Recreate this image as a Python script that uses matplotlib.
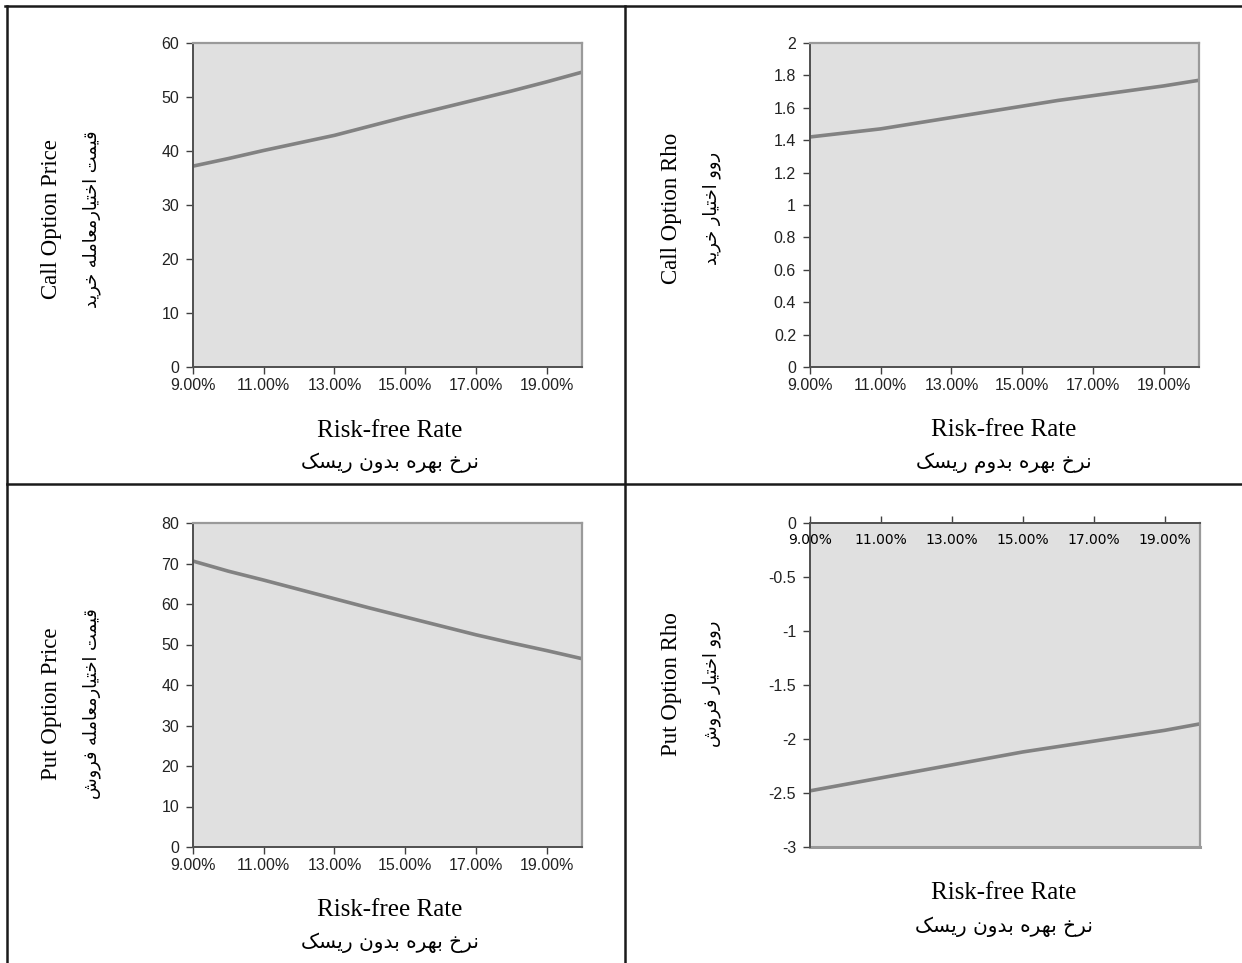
import numpy as np
import matplotlib
matplotlib.use("Agg")
import matplotlib.pyplot as plt
from matplotlib.lines import Line2D

# risk-free rate (%) and the four series
rates = [9, 10, 11, 12, 13, 14, 15, 16, 17, 18, 19, 20]
call_price = [37.2, 38.6, 40.1, 41.5, 42.9, 44.6, 46.3, 47.9, 49.5, 51.1, 52.8, 54.6]
call_rho = [1.42, 1.445, 1.47, 1.505, 1.54, 1.575, 1.61, 1.645, 1.675, 1.705, 1.735, 1.77]
put_price = [70.6, 68.1, 65.9, 63.6, 61.3, 59.0, 56.8, 54.6, 52.4, 50.4, 48.5, 46.5]
put_rho = [-2.48, -2.42, -2.36, -2.30, -2.24, -2.18, -2.12, -2.07, -2.02, -1.97, -1.92, -1.86]

xticks = [9, 11, 13, 15, 17, 19]
xtick_labels = ["9.00%", "11.00%", "13.00%", "15.00%", "17.00%", "19.00%"]

en_ylabels = ["Call Option Price", "Call Option Rho", "Put Option Price", "Put Option Rho"]
fa_ylabels = ["قیمت اختیارمعامله خرید", "روو اختیار خرید", "قیمت اختیارمعامله فروش", "روو اختیار فروش"]
en_xlabel = "Risk-free Rate"
fa_xlabels = ["نرخ بهره بدون ریسک", "نرخ بهره بدوم ریسک", "نرخ بهره بدون ریسک", "نرخ بهره بدون ریسک"]

# presentation forms: isolated, final, initial, medial (None = does not join forward)
FORMS = {
    'ا': ('\uFE8D', '\uFE8E', None, None),
    'ب': ('\uFE8F', '\uFE90', '\uFE91', '\uFE92'),
    'ت': ('\uFE95', '\uFE96', '\uFE97', '\uFE98'),
    'خ': ('\uFEA5', '\uFEA6', '\uFEA7', '\uFEA8'),
    'د': ('\uFEA9', '\uFEAA', None, None),
    'ر': ('\uFEAD', '\uFEAE', None, None),
    'س': ('\uFEB1', '\uFEB2', '\uFEB3', '\uFEB4'),
    'ش': ('\uFEB5', '\uFEB6', '\uFEB7', '\uFEB8'),
    'ع': ('\uFEC9', '\uFECA', '\uFECB', '\uFECC'),
    'ف': ('\uFED1', '\uFED2', '\uFED3', '\uFED4'),
    'ق': ('\uFED5', '\uFED6', '\uFED7', '\uFED8'),
    'ل': ('\uFEDD', '\uFEDE', '\uFEDF', '\uFEE0'),
    'م': ('\uFEE1', '\uFEE2', '\uFEE3', '\uFEE4'),
    'ن': ('\uFEE5', '\uFEE6', '\uFEE7', '\uFEE8'),
    'ه': ('\uFEE9', '\uFEEA', '\uFEEB', '\uFEEC'),
    'و': ('\uFEED', '\uFEEE', None, None),
    'ی': ('\uFBFC', '\uFBFD', '\uFBFE', '\uFBFF'),
    'ک': ('\uFB8E', '\uFB8F', '\uFB90', '\uFB91'),
}


def shape_fa(text):
    # matplotlib has no arabic shaping / bidi, so do it by hand
    out = []
    for i, ch in enumerate(text):
        if ch not in FORMS:
            out.append(ch)
            continue
        prev = text[i - 1] if i > 0 else None
        nxt = text[i + 1] if i + 1 < len(text) else None
        joins_prev = prev in FORMS and FORMS[prev][2] is not None
        joins_next = nxt in FORMS and FORMS[ch][2] is not None
        iso, fin, ini, med = FORMS[ch]
        if joins_prev and joins_next:
            out.append(med)
        elif joins_prev:
            out.append(fin)
        elif joins_next:
            out.append(ini)
        else:
            out.append(iso)
    return "".join(reversed(out))


W, H = 1242, 963
fig = plt.figure(figsize=(W / 100, H / 100), dpi=100)

EN_FONT = "Liberation Serif"
FA_FONT = ["DejaVu Sans"]
TICK_FONT = "Liberation Sans"


def px_axes(left, right, top, bottom):
    return fig.add_axes([left / W, 1 - bottom / H, (right - left) / W, (bottom - top) / H])


panels = [
    # data, ylim, yticks, axes px box, ylabel px (x_en, x_fa, y), xlabel px (x, y_en, y_fa)
    (call_price, (0, 60), np.arange(0, 61, 10), (193, 582, 43, 367),
     (52, 92, 219), (390, 431, 463)),
    (call_rho, (0, 2), np.arange(0, 2.01, 0.2), (810, 1199, 43, 367),
     (671, 712, 208), (1004, 430, 463)),
    (put_price, (0, 80), np.arange(0, 81, 10), (193, 582, 523, 847),
     (52, 92, 704), (390, 910, 943)),
    (put_rho, (-3, 0), np.arange(-3, 0.01, 0.5), (810, 1200, 523, 847),
     (671, 712, 684), (1004, 893, 927)),
]

for i, (vals, ylim, yt, box, ylab, xlab) in enumerate(panels):
    ax = px_axes(*box)
    ax.set_facecolor("#e0e0e0")
    ax.plot(rates, vals, color="#828282", linewidth=2.6, solid_capstyle="butt",
            solid_joinstyle="round")
    ax.set_xlim(9, 20)
    ax.set_ylim(*ylim)
    ax.set_yticks(yt)
    ax.set_yticklabels(["{:g}".format(round(v, 2)) for v in yt])
    ax.set_xticks(xticks)
    ax.set_xticklabels(xtick_labels)
    for lab in ax.get_xticklabels() + ax.get_yticklabels():
        lab.set_fontfamily(TICK_FONT)
        lab.set_fontsize(11.5)
        lab.set_color("#222222")
    ax.tick_params(axis="both", direction="out", length=5, width=1.0, color="#404040", pad=5)
    ax.tick_params(axis="x", pad=3)

    ax.spines["top"].set_color("#9a9a9a")
    ax.spines["right"].set_color("#9a9a9a")
    ax.spines["top"].set_linewidth(1.6)
    ax.spines["right"].set_linewidth(1.6)
    ax.spines["left"].set_color("#505050")
    ax.spines["bottom"].set_color("#505050")
    ax.spines["left"].set_linewidth(1.4)
    ax.spines["bottom"].set_linewidth(1.4)

    if ylim[1] == 0:
        # axis crosses at zero, which is the top of the plot
        ax.spines["bottom"].set_position(("data", 0))
        ax.tick_params(axis="x", direction="in", length=5, pad=7)
        ax.spines["top"].set_visible(False)
        ax.plot([9, 20], [-3, -3], color="#9a9a9a", linewidth=2.2, clip_on=False)

    # axis titles
    fig.text(ylab[0] / W, 1 - ylab[2] / H, en_ylabels[i], rotation=90,
             ha="center", va="center", fontsize=16.5, fontfamily=EN_FONT)
    fig.text(ylab[1] / W, 1 - ylab[2] / H, shape_fa(fa_ylabels[i]), rotation=90,
             ha="center", va="center", fontsize=12.8, family=FA_FONT)
    fig.text(xlab[0] / W, 1 - xlab[1] / H, en_xlabel,
             ha="center", va="center", fontsize=18, fontfamily=EN_FONT)
    fig.text(xlab[0] / W, 1 - xlab[2] / H, shape_fa(fa_xlabels[i]),
             ha="center", va="center", fontsize=14.5, family=FA_FONT)

# table borders
border = dict(color="#1a1a1a", linewidth=1.8, transform=fig.transFigure)
fig.add_artist(Line2D([5 / W, 1], [1 - 6 / H, 1 - 6 / H], **border))
fig.add_artist(Line2D([7 / W, 7 / W], [1 - 6 / H, 0], **border))
fig.add_artist(Line2D([625 / W, 625 / W], [1 - 6 / H, 0], **border))
fig.add_artist(Line2D([7 / W, 1], [1 - 484 / H, 1 - 484 / H], **border))

fig.savefig("out.png", dpi=100)
